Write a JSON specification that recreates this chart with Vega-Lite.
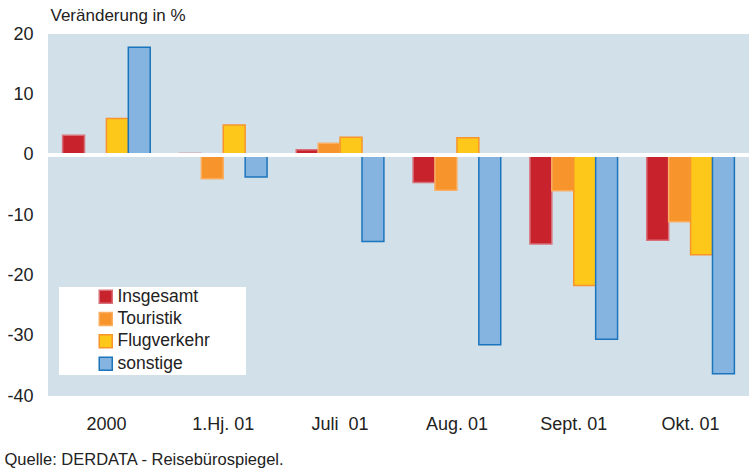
{
  "$schema": "https://vega.github.io/schema/vega-lite/v6.json",
  "width": 701,
  "height": 362,
  "autosize": "none",
  "padding": {"left": 48, "top": 34, "right": 0, "bottom": 72},
  "background": "white",
  "config": {
    "font": "Liberation Sans",
    "view": {"fill": "#D2E0E9", "stroke": null}
  },
  "data": {
    "values": [
      {"period": "2000", "serie": "Insgesamt", "v": 3.2},
      {"period": "2000", "serie": "Touristik", "v": 0.1},
      {"period": "2000", "serie": "Flugverkehr", "v": 6.0},
      {"period": "2000", "serie": "sonstige", "v": 17.8},
      {"period": "1.Hj. 01", "serie": "Insgesamt", "v": 0.2},
      {"period": "1.Hj. 01", "serie": "Touristik", "v": -4.0},
      {"period": "1.Hj. 01", "serie": "Flugverkehr", "v": 4.9},
      {"period": "1.Hj. 01", "serie": "sonstige", "v": -3.7},
      {"period": "Juli\u00a0 01", "serie": "Insgesamt", "v": 0.8},
      {"period": "Juli\u00a0 01", "serie": "Touristik", "v": 1.9},
      {"period": "Juli\u00a0 01", "serie": "Flugverkehr", "v": 2.9},
      {"period": "Juli\u00a0 01", "serie": "sonstige", "v": -14.4},
      {"period": "Aug. 01", "serie": "Insgesamt", "v": -4.6},
      {"period": "Aug. 01", "serie": "Touristik", "v": -5.9},
      {"period": "Aug. 01", "serie": "Flugverkehr", "v": 2.8},
      {"period": "Aug. 01", "serie": "sonstige", "v": -31.5},
      {"period": "Sept. 01", "serie": "Insgesamt", "v": -14.8},
      {"period": "Sept. 01", "serie": "Touristik", "v": -6.0},
      {"period": "Sept. 01", "serie": "Flugverkehr", "v": -21.7},
      {"period": "Sept. 01", "serie": "sonstige", "v": -30.6},
      {"period": "Okt. 01", "serie": "Insgesamt", "v": -14.2},
      {"period": "Okt. 01", "serie": "Touristik", "v": -11.1},
      {"period": "Okt. 01", "serie": "Flugverkehr", "v": -16.6},
      {"period": "Okt. 01", "serie": "sonstige", "v": -36.3}
    ]
  },
  "layer": [
    {
      "mark": {"type": "bar", "strokeWidth": 1.5},
      "encoding": {
        "x": {
          "field": "period",
          "type": "nominal",
          "sort": null,
          "scale": {"paddingInner": 0.25, "paddingOuter": 0.125},
          "axis": {
            "title": "Quelle: DERDATA - Reisebürospiegel.",
            "titleFont": "Liberation Sans",
            "titleFontSize": 16.5,
            "titleFontWeight": "normal",
            "titleColor": "#222222",
            "titleAnchor": "start",
            "titleAlign": "left",
            "titleX": -44,
            "titleY": 55,
            "labelAngle": 0,
            "labelFontSize": 18,
            "labelColor": "#222222",
            "labelPadding": 19,
            "domain": false,
            "ticks": false
          }
        },
        "xOffset": {
          "field": "serie",
          "type": "nominal",
          "sort": ["Insgesamt", "Touristik", "Flugverkehr", "sonstige"],
          "scale": {"paddingInner": 0, "paddingOuter": 0}
        },
        "y": {
          "field": "v",
          "type": "quantitative",
          "scale": {"domain": [-40, 20], "nice": false},
          "axis": {
            "values": [-40, -30, -20, -10, 0, 10, 20],
            "labelExpr": "'' + datum.value",
            "title": "Veränderung in %",
            "titleAngle": 0,
            "titleAlign": "left",
            "titleBaseline": "alphabetic",
            "titleX": 2,
            "titleY": -14,
            "titleFontSize": 17,
            "titleFontWeight": "normal",
            "titleColor": "#222222",
            "labelFontSize": 18,
            "labelColor": "#222222",
            "labelPadding": 15,
            "domain": false,
            "ticks": false,
            "grid": false
          }
        },
        "fill": {
          "field": "serie",
          "type": "nominal",
          "sort": ["Insgesamt", "Touristik", "Flugverkehr", "sonstige"],
          "scale": {
            "domain": ["Insgesamt", "Touristik", "Flugverkehr", "sonstige"],
            "range": ["#C8232C", "#F7942B", "#FEC81B", "#86B4E0"]
          },
          "legend": {
            "title": "\u2800\u2800\u2800",
            "titleOrient": "right",
            "titleFontSize": 14,
            "titlePadding": 5,
            "orient": "none",
            "legendX": 11,
            "legendY": 253,
            "fillColor": "white",
            "padding": 1,
            "symbolType": "square",
            "symbolSize": 170,
            "symbolStrokeWidth": 1.5,
            "symbolOffset": 37,
            "labelFontSize": 17.5,
            "labelColor": "#222222",
            "labelOffset": 3,
            "rowPadding": 2.3
          }
        },
        "stroke": {
          "field": "serie",
          "type": "nominal",
          "sort": ["Insgesamt", "Touristik", "Flugverkehr", "sonstige"],
          "scale": {
            "domain": ["Insgesamt", "Touristik", "Flugverkehr", "sonstige"],
            "range": ["#D77079", "#F9AE62", "#F7942B", "#1B75BC"]
          },
          "legend": {
            "title": "\u2800\u2800\u2800",
            "titleOrient": "right",
            "titleFontSize": 14,
            "titlePadding": 5,
            "orient": "none",
            "legendX": 11,
            "legendY": 253,
            "fillColor": "white",
            "padding": 1,
            "symbolType": "square",
            "symbolSize": 170,
            "symbolStrokeWidth": 1.5,
            "symbolOffset": 37,
            "labelFontSize": 17.5,
            "labelColor": "#222222",
            "labelOffset": 3,
            "rowPadding": 2.3
          }
        }
      }
    },
    {
      "mark": {"type": "rule", "color": "white", "strokeWidth": 3},
      "encoding": {"y": {"datum": 0}}
    }
  ]
}
